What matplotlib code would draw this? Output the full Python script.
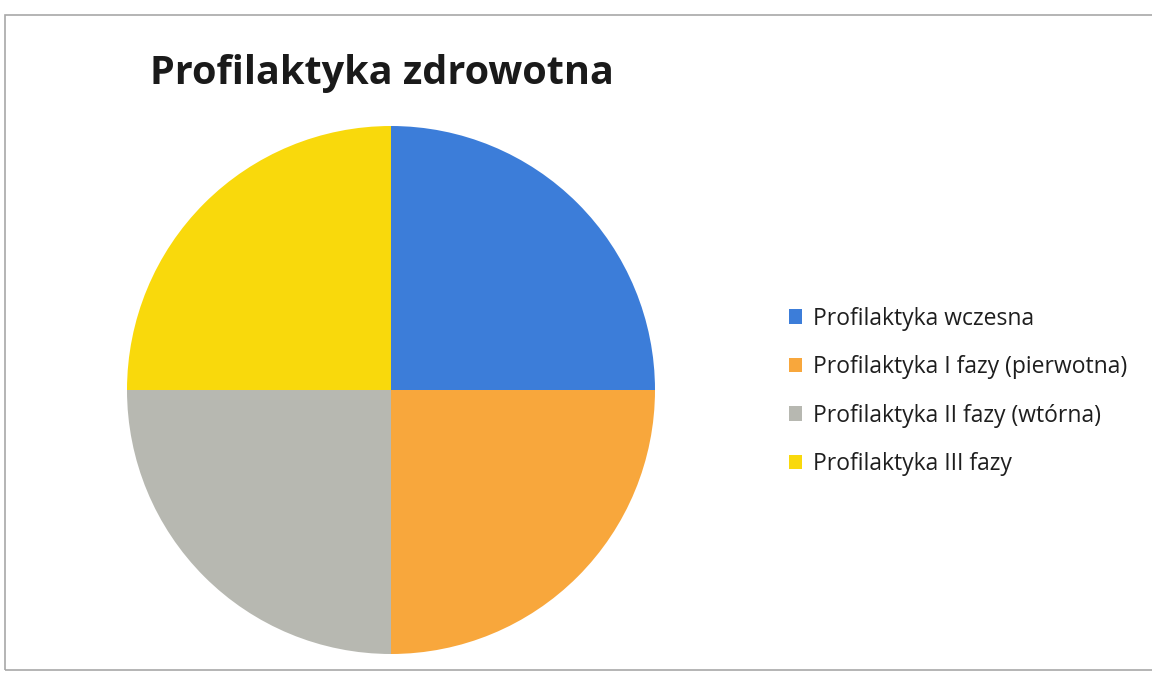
import matplotlib
matplotlib.use("Agg")
import matplotlib.pyplot as plt
from matplotlib.patches import Rectangle

# Chart data
categories = [
    "Profilaktyka wczesna",
    "Profilaktyka I fazy (pierwotna)",
    "Profilaktyka II fazy (wtórna)",
    "Profilaktyka III fazy",
]
shares = [25, 25, 25, 25]
colors = ["#3C7DD9", "#F8A73C", "#B7B8B1", "#F9D90C"]
title = "Profilaktyka zdrowotna"

W, H = 1152, 678
fig = plt.figure(figsize=(W / 100, H / 100), dpi=100)
fig.patch.set_facecolor("white")

# Chart frame
fig.patches.append(Rectangle((5 / W, 8 / H), 1.2, (670 - 15) / H,
                             transform=fig.transFigure, fill=False,
                             edgecolor="#A8A8A8", linewidth=1.2))

cx, cy, r = 391, 390, 264
ax = fig.add_axes([(cx - r) / W, (H - cy - r) / H, 2 * r / W, 2 * r / H])
wedges, _ = ax.pie(shares, colors=colors, startangle=90, counterclock=False,
                   wedgeprops=dict(linewidth=0))
ax.set_xlim(-1, 1)
ax.set_ylim(-1, 1)
ax.set_aspect("equal")
ax.set_axis_off()

fig.text(150 / W, 1 - 84 / H, title, fontsize=28.5, fontweight="bold",
         family="Open Sans", color="#1A1A1A", ha="left", va="baseline")

leg = fig.legend(wedges, categories, loc="upper left",
                 bbox_to_anchor=(768 / W, 1 - 286 / H), frameon=False,
                 prop=dict(family="Open Sans", size=16.5),
                 handlelength=0.6, handleheight=0.6, handletextpad=0.45,
                 labelspacing=1.07)
for t in leg.get_texts():
    t.set_color("#1E1E1E")

fig.savefig("out.png", dpi=100, facecolor="white")
